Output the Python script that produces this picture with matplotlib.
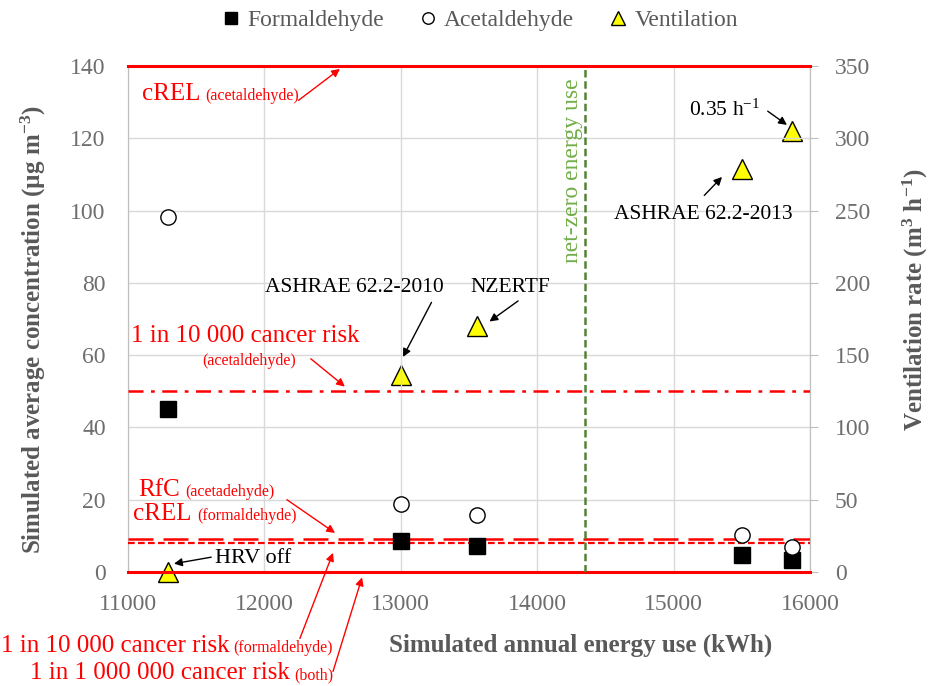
import matplotlib
matplotlib.use("Agg")
import matplotlib.pyplot as plt

plt.rcParams['font.family'] = ['Liberation Serif', 'DejaVu Serif']

# data
energy = [11290, 13000, 13560, 15500, 15870]
formaldehyde = [45, 8.6, 7.2, 4.7, 3.3]
acetaldehyde = [98.2, 18.8, 15.8, 10.2, 6.9]
ventilation = [0, 136, 170, 279, 305]

crel_acet = 140
cancer_acet = 50
rfc_acet = 9
cancer_form = 8
cancer_both = 0
net_zero = 14350

gray = '#595959'
red = '#FF0000'

fig = plt.figure(figsize=(9.29, 6.86), dpi=100)
ax = fig.add_axes([128/929, (686-572)/686, (810-128)/929, (572-66)/686])
ax2 = ax.twinx()

ax.set_xlim(11000, 16000)
ax.set_ylim(0, 140)
ax2.set_ylim(0, 350)
ax.set_xticks(range(11000, 16001, 1000))
ax.set_yticks(range(0, 141, 20))
ax2.set_yticks(range(0, 351, 50))

ax.grid(True, color='#D9D9D9', lw=1)
ax.set_axisbelow(True)
for a in (ax, ax2):
    for s in a.spines.values():
        s.set_color('#BFBFBF')
    a.spines['top'].set_visible(False)
ax.tick_params(length=0, labelsize=17, labelcolor='#6e6e6e', pad=16)
ax2.tick_params(length=6, color='#BFBFBF', labelsize=17, labelcolor='#6e6e6e', pad=12)

# limit lines
ax.axhline(crel_acet, color=red, lw=2.2, clip_on=False, zorder=3)
ax.axhline(cancer_acet, color=red, lw=1.8, ls=(0, (6, 3, 1.5, 3)), zorder=3)
ax.axhline(rfc_acet, color=red, lw=1.8, ls=(0, (10, 4)), zorder=3)
ax.axhline(cancer_form, color=red, lw=1.6, ls=(0, (3, 1.5)), zorder=3)
ax.axhline(cancer_both, color=red, lw=2.2, clip_on=False, zorder=3)
ax.axvline(net_zero, color='#548235', lw=1.8, ls=(0, (3, 1.5)), zorder=3)

# markers
l1, = ax.plot(energy, formaldehyde, 's', color='black', ms=11, ls='none', zorder=5)
l2, = ax.plot(energy, acetaldehyde, 'o', mfc='white', mec='black', mew=1, ms=11, ls='none', zorder=5)
l3, = ax2.plot(energy, ventilation, '^', mfc='#FFFF00', mec='black', mew=1, ms=14, ls='none', zorder=5, clip_on=False)

fig.legend([l1, l2, l3], ['Formaldehyde', 'Acetaldehyde', 'Ventilation'], loc='center', bbox_to_anchor=(0.517, 1 - 20/686),
           ncol=3, frameon=False, fontsize=17, labelcolor=gray, handlelength=0.7, handletextpad=0.35,
           columnspacing=1.5, markerscale=0.75)

ax.text(0.663, -0.144, 'Simulated annual energy use (kWh)', transform=ax.transAxes, fontsize=18,
        fontweight='bold', color=gray, ha='center', va='center')
fig.text(33/929, 1 - 330/686, r'Simulated average concentration (µg m$\mathregular{^{-3}}$)', rotation=90,
         fontsize=18, fontweight='bold', color=gray, ha='center', va='center')
fig.text(915/929, 1 - 300/686, r'Ventilation rate (m$\mathregular{^{3}}$ h$\mathregular{^{-1}}$)', rotation=90,
         fontsize=18, fontweight='bold', color=gray, ha='center', va='center')

ax.set_zorder(ax2.get_zorder() + 1)
ax.patch.set_visible(False)


def arrow(tail, tip, color):
    ax.annotate('', xy=tip, xytext=tail, annotation_clip=False,
                arrowprops=dict(arrowstyle='-|>', color=color, lw=1, mutation_scale=12, shrinkA=0, shrinkB=0))


fig.canvas.draw()
inv = ax.transData.inverted()


def red_left(x, y, big, small):
    # big red text followed by a smaller one on the same baseline
    t = ax.text(x, y, big, color=red, fontsize=18, ha='left', va='baseline', clip_on=False)
    bb = t.get_window_extent(fig.canvas.get_renderer())
    xs = inv.transform((bb.x1 + 5, 0))[0]
    ax.text(xs, y, small, color=red, fontsize=11.5, ha='left', va='baseline', clip_on=False)


def red_right(x, y, big, small):
    # small text ends at x, the big text comes before it
    s = ax.text(x, y, small, color=red, fontsize=11.5, ha='right', va='baseline', clip_on=False)
    bb = s.get_window_extent(fig.canvas.get_renderer())
    xb = inv.transform((bb.x0 - 4, 0))[0]
    ax.text(xb, y, big, color=red, fontsize=18, ha='right', va='baseline', clip_on=False)


red_left(11100, 130.5, 'cREL', '(acetaldehyde)')
arrow((12250, 130.5), (12554, 139.2), red)

ax.text(11860, 63.5, '1 in 10 000 cancer risk', color=red, fontsize=18, ha='center', va='baseline')
ax.text(11890, 58.5, '(acetaldehyde)', color=red, fontsize=11.5, ha='center', va='center')
arrow((12340, 59), (12590, 51.3), red)

red_left(11075, 21, 'RfC', '(acetadehyde)')
red_left(11040, 14.5, 'cREL', '(formaldehyde)')
arrow((12165, 20), (12518, 10.8), red)

ax.text(11638, 3.6, 'HRV off', color='black', fontsize=16, va='center')
arrow((11610, 4.1), (11337, 2.3), 'black')

ax.text(12657, 78.6, 'ASHRAE 62.2-2010', color='black', fontsize=15.5, ha='center', va='center')
arrow((13225, 74.6), (13016, 59.5), 'black')
ax.text(13800, 78.6, 'NZERTF', color='black', fontsize=15.5, ha='center', va='center')
arrow((13860, 75), (13650, 69.3), 'black')

ax.text(15377, 127.8, r'0.35 h$\mathregular{^{-1}}$', color='black', fontsize=15.5, ha='center', va='center')
arrow((15690, 127.5), (15831, 123.7), 'black')
ax.text(15215, 98.8, 'ASHRAE 62.2-2013', color='black', fontsize=15.5, ha='center', va='center')
arrow((15225, 104.2), (15355, 109.3), 'black')

ax.text(14262, 111, 'net-zero energy use', color='#70AD47', fontsize=17, rotation=90, ha='center', va='center')

# labels under the axis
red_right(12503, -22.1, '1 in 10 000 cancer risk', '(formaldehyde)')
red_right(12503, -29.6, '1 in 1 000 000 cancer risk', '(both)')
arrow((12260, -18.4), (12503, 5.3), red)
arrow((12503, -27.5), (12716, -1.5), red)

fig.savefig('out.png', dpi=100)
